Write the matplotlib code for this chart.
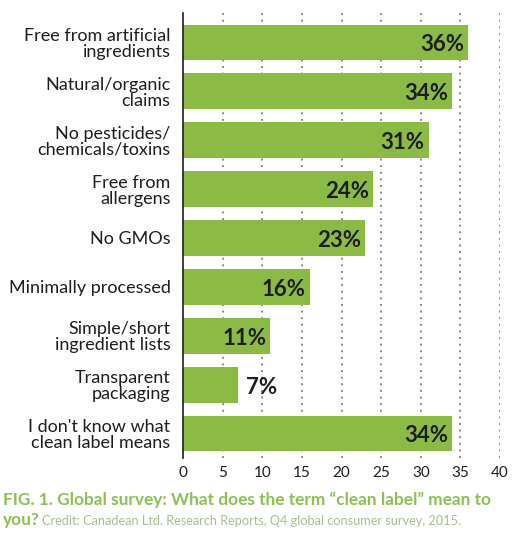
import numpy as np
import matplotlib
matplotlib.use('Agg')
from matplotlib import pyplot as plt

plt.rcParams['font.family'] = ['Lato', 'DejaVu Sans']

categories = ['Free from artificial\ningredients',
              'Natural/organic\nclaims',
              'No pesticides/\nchemicals/toxins',
              'Free from\nallergens',
              'No GMOs',
              'Minimally processed',
              'Simple/short\ningredient lists',
              'Transparent\npackaging',
              "I don't know what\nclean label means"]
values = [36, 34, 31, 24, 23, 16, 11, 7, 34]
xticks = [0, 5, 10, 15, 20, 25, 30, 35, 40]

bar_green = '#8cbb45'
fig = plt.figure(figsize=(5.13, 5.38), dpi=100)
ax = fig.add_axes([0.3567, 0.1487, 0.618, 0.827])

ypos = np.arange(len(values))
for x in xticks[1:]:
    ax.axvline(x, color='#8a8a8a', lw=1.4, linestyle=(0, (1, 2.4)), zorder=1)
ax.barh(ypos, values, height=0.73, color=bar_green, zorder=2)

for y, v in zip(ypos, values):
    txt = '%d%%' % v
    if v < 10:
        ax.text(v + 0.9, y + 0.05, txt, ha='left', va='center', fontsize=16,
                fontweight='bold', color='#1e1e1e', zorder=3)
    else:
        ax.text(v - 0.5, y + 0.05, txt, ha='right', va='center', fontsize=16,
                fontweight='bold', color='#1e1e1e', zorder=3)

ax.set_xlim(0, 40)
ax.set_ylim(8.5, -0.6)
ax.set_xticks(xticks)
ax.set_yticks(ypos)
ax.set_yticklabels(categories, fontsize=13, linespacing=1.0, ha='right')
ax.tick_params(axis='both', length=0, colors='#1e1e1e')
ax.tick_params(axis='x', labelsize=11, pad=6)
ax.tick_params(axis='y', pad=9)
for s in ['top', 'right', 'bottom']:
    ax.spines[s].set_visible(False)
ax.spines['left'].set_color('#1e1e1e')
ax.spines['left'].set_linewidth(1.2)

fig.text(0.006, 0.061, u'FIG. 1. Global survey: What does the term \u201cclean label\u201d mean to',
         fontsize=12.4, fontweight='bold', color='#8dc153', va='baseline')
fig.text(0.006, 0.024, 'you?', fontsize=12.4, fontweight='bold', color='#8dc153', va='baseline')
fig.text(0.081, 0.024, 'Credit: Canadean Ltd. Research Reports, Q4 global consumer survey, 2015.',
         fontsize=9.2, color='#a9c08e', va='baseline')

plt.savefig('out.png', dpi=100)
